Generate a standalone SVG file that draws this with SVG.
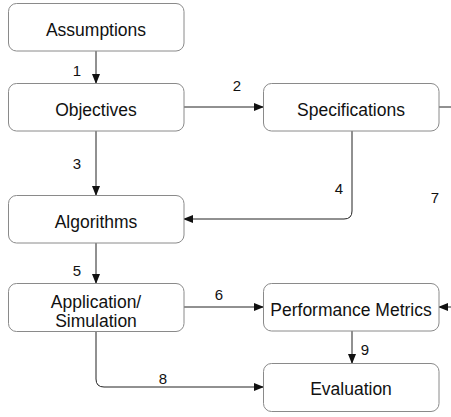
<svg xmlns="http://www.w3.org/2000/svg" width="451" height="417" viewBox="0 0 451 417">
<style>
.box{fill:#fff;stroke:#8a8a8a;stroke-width:1}
.t{font-family:"Liberation Sans",Arial,sans-serif;font-size:17.5px;fill:#111;text-anchor:middle}
.n{font-family:"Liberation Sans",Arial,sans-serif;font-size:15px;fill:#111;text-anchor:middle}
.c{fill:none;stroke:#222;stroke-width:1}
</style>
<defs>
<marker id="ah" markerWidth="10" markerHeight="8" refX="9" refY="4" orient="auto" markerUnits="userSpaceOnUse">
<path d="M0,0 L10,4 L0,8 Z" fill="#111"/>
</marker>
</defs>
<rect width="451" height="417" fill="#fff"/>
<g id="connectors">
<path class="c" d="M96,51 V83" marker-end="url(#ah)"/>
<path class="c" d="M184,107 H263" marker-end="url(#ah)"/>
<path class="c" d="M96,131 V195" marker-end="url(#ah)"/>
<path class="c" d="M352,131 V211 Q352,219 344,219 H184" marker-end="url(#ah)"/>
<path class="c" d="M96,243 V283" marker-end="url(#ah)"/>
<path class="c" d="M184,307 H263" marker-end="url(#ah)"/>
<path class="c" d="M439,107 H470 V307 H439" marker-end="url(#ah)"/>
<path class="c" d="M96,332 V379 Q96,387 104,387 H263" marker-end="url(#ah)"/>
<path class="c" d="M352,331 V363" marker-end="url(#ah)"/>
<text class="n" x="77" y="75.5">1</text>
<text class="n" x="237" y="90.5">2</text>
<text class="n" x="77" y="168.5">3</text>
<text class="n" x="339" y="193.5">4</text>
<text class="n" x="77" y="275.5">5</text>
<text class="n" x="219" y="299.5">6</text>
<text class="n" x="435" y="202.5">7</text>
<text class="n" x="163" y="383.5">8</text>
<text class="n" x="365" y="354.5">9</text>
</g>
<g id="assumptions">
<rect class="box" x="8.5" y="3.5" width="175.5" height="47.5" rx="8"/>
<text class="t" x="96" y="35.5">Assumptions</text>
</g>
<g id="objectives">
<rect class="box" x="8.5" y="83.5" width="175.5" height="47.5" rx="8"/>
<text class="t" x="96" y="115.5">Objectives</text>
</g>
<g id="specifications">
<rect class="box" x="263.5" y="83.5" width="175.5" height="47.5" rx="8"/>
<text class="t" x="351" y="115.5">Specifications</text>
</g>
<g id="algorithms">
<rect class="box" x="8.5" y="195.5" width="175.5" height="47.5" rx="8"/>
<text class="t" x="96" y="227.5">Algorithms</text>
</g>
<g id="application">
<rect class="box" x="8.5" y="283.5" width="175.5" height="48" rx="8"/>
<text class="t" x="96" y="307.5">Application/</text>
<text class="t" x="96" y="326.5">Simulation</text>
</g>
<g id="performance">
<rect class="box" x="263.5" y="283.5" width="175.5" height="47.5" rx="8"/>
<text class="t" x="351" y="315.5">Performance Metrics</text>
</g>
<g id="evaluation">
<rect class="box" x="263.5" y="363.5" width="175.5" height="48" rx="8"/>
<text class="t" x="351" y="395">Evaluation</text>
</g>
</svg>
